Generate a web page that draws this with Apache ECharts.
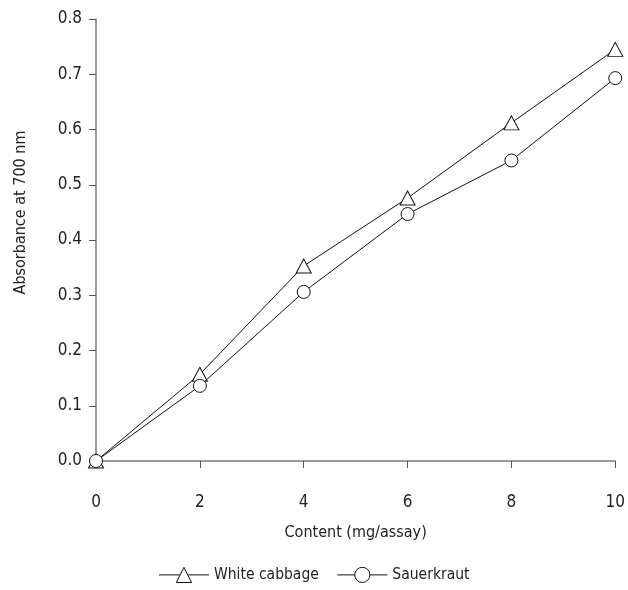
<!DOCTYPE html>
<html><head><meta charset="utf-8">
<script src="https://cdn.jsdelivr.net/npm/echarts@6/dist/echarts.min.js"></script>
<style>html,body{margin:0;padding:0;background:#fff}#c{width:628px;height:590px}</style>
</head><body><div id="c"></div>
<script>
var xValues = [0, 2, 4, 6, 8, 10];
var whiteCabbage = [0, 0.157, 0.353, 0.476, 0.612, 0.745];
var sauerkraut = [0, 0.136, 0.306, 0.447, 0.544, 0.693];
var seriesNames = ['White cabbage', 'Sauerkraut'];
var xTitle = 'Content (mg/assay)';
var yTitle = 'Absorbance at 700 nm';

var FONT = '"DejaVu Sans Condensed", "Liberation Sans Narrow", sans-serif';
var chart = echarts.init(document.getElementById('c'));
function pairs(arr){ return xValues.map(function(x,i){ return [x, arr[i]]; }); }
chart.setOption({
  animation: false,
  backgroundColor: '#fff',
  textStyle: { fontFamily: FONT },
  grid: { left: 96, right: 5, top: 19, bottom: 129, containLabel: false },
  xAxis: {
    type: 'value', min: 0, max: 10, interval: 2,
    name: xTitle, nameLocation: 'middle', nameGap: 64,
    nameTextStyle: { fontFamily: FONT, fontSize: 16, color: '#222' },
    axisLine: { show: true, onZero: false, lineStyle: { color: '#7a7a7a', width: 1.5 } },
    axisTick: { show: true, length: 7, lineStyle: { color: '#555', width: 1 } },
    axisLabel: { margin: 33, fontFamily: FONT, fontSize: 17, color: '#222' },
    splitLine: { show: false }
  },
  yAxis: {
    type: 'value', min: 0, max: 0.8, interval: 0.1,
    name: yTitle, nameLocation: 'middle', nameGap: 67, nameRotate: 90,
    nameTextStyle: { fontFamily: FONT, fontSize: 16, color: '#222', padding: [0, 0, 0, 55] },
    axisLine: { show: true, lineStyle: { color: '#7a7a7a', width: 1.5 } },
    axisTick: { show: true, length: 7, lineStyle: { color: '#555', width: 1 } },
    axisLabel: { margin: 14, fontFamily: FONT, fontSize: 17, color: '#222',
      formatter: function(v){ return v.toFixed(1); } },
    splitLine: { show: false }
  },
  legend: {
    bottom: 2, left: 'center', itemGap: 18, itemWidth: 50, itemHeight: 19,
    lineStyle: { width: 1 },
    itemStyle: { borderWidth: 1 },
    textStyle: { fontFamily: FONT, fontSize: 15.5, color: '#222' },
    data: seriesNames
  },
  series: [
    { name: seriesNames[0], type: 'line', data: pairs(whiteCabbage),
      symbol: 'triangle', symbolSize: [15, 14], showAllSymbol: true,
      lineStyle: { color: '#111', width: 1 },
      itemStyle: { color: '#fff', borderColor: '#111', borderWidth: 1 }, z: 2 },
    { name: seriesNames[1], type: 'line', data: pairs(sauerkraut),
      symbol: 'circle', symbolSize: 13, showAllSymbol: true,
      lineStyle: { color: '#111', width: 1 },
      itemStyle: { color: '#fff', borderColor: '#111', borderWidth: 1 }, z: 3 }
  ]
});
</script></body></html>
